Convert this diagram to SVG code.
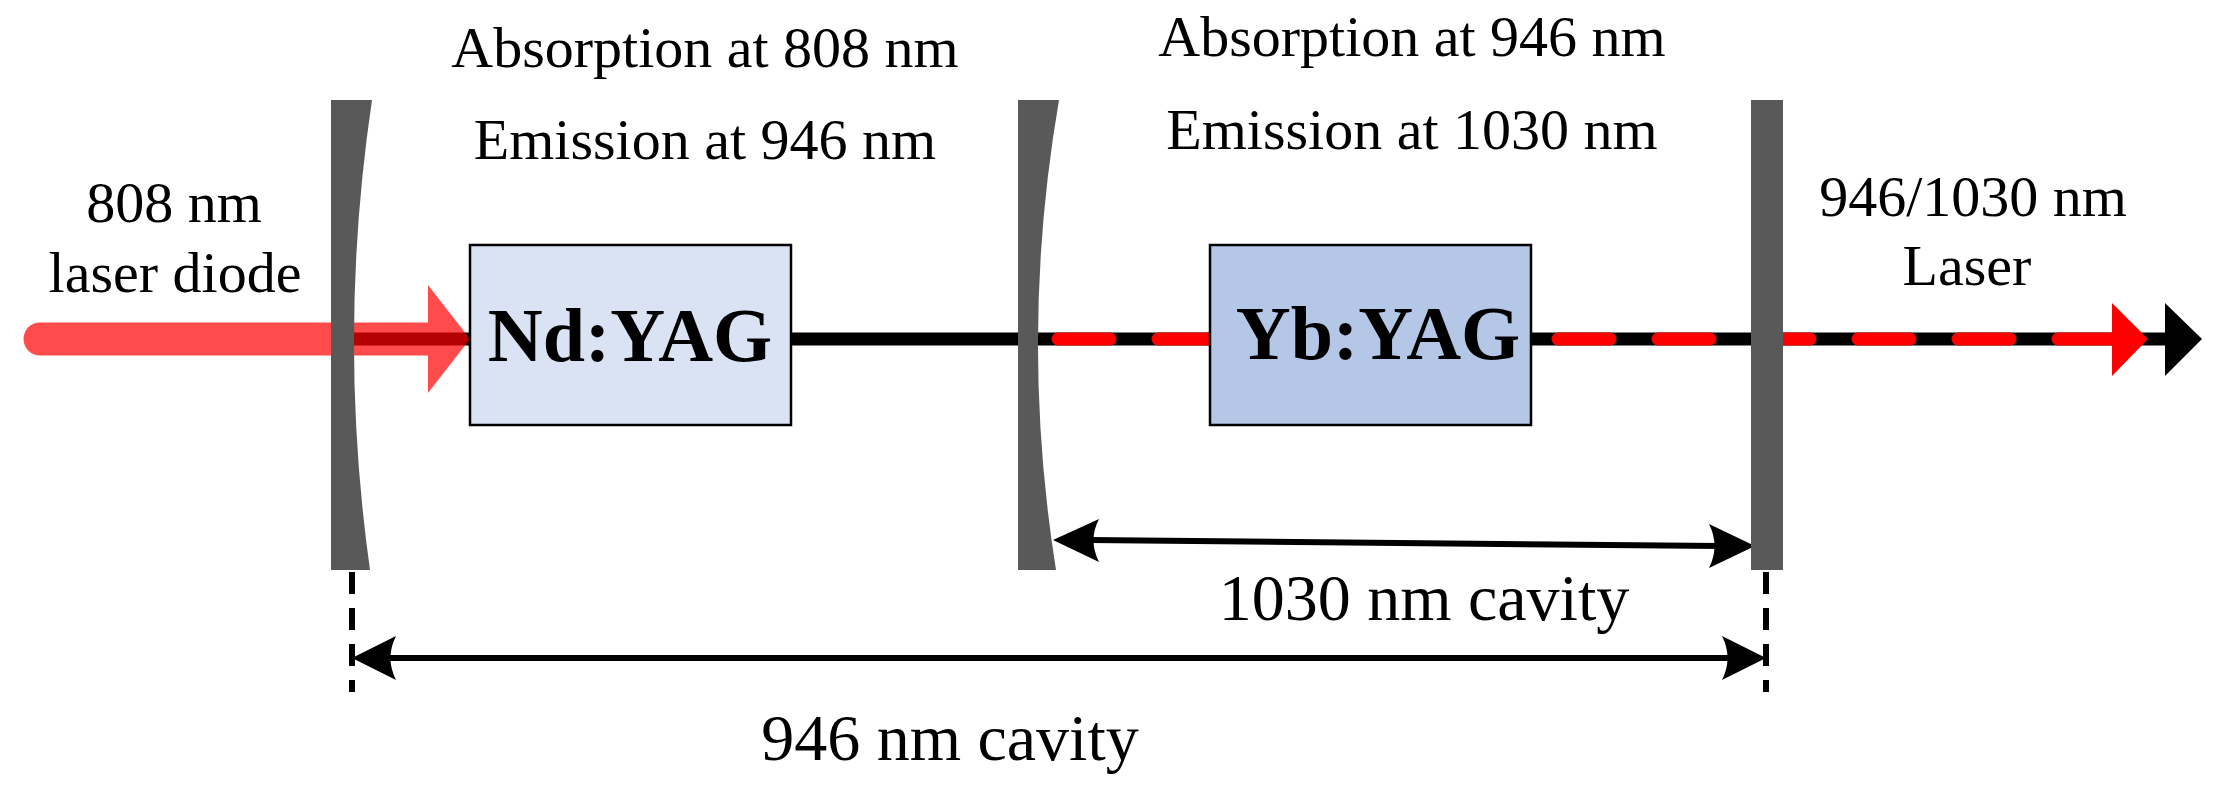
<svg xmlns="http://www.w3.org/2000/svg" width="2214" height="792" viewBox="0 0 2214 792">
<style>
text{font-family:"Liberation Serif","Times New Roman",serif;fill:#000;text-anchor:middle}
.t{font-size:58px}
.c{font-size:66px}
.b{font-size:76px;font-weight:bold}
.mirror{fill:#595959}
.box{stroke:#000;stroke-width:2.5}
</style>
<rect width="2214" height="792" fill="#fff"/>
<g id="connectors">
<line x1="354" y1="339" x2="2170" y2="339" stroke="#000" stroke-width="13"/>
<polygon points="2165,303 2202,339 2165,376" fill="#000"/>
<line x1="1058" y1="339" x2="2112" y2="339" stroke="#f00" stroke-width="13" stroke-linecap="round" stroke-dasharray="52 48"/>
<polygon points="2112,303 2148,339 2112,376" fill="#f00"/>
<g id="pump" opacity="0.7" fill="#f00">
<line x1="40" y1="339" x2="440" y2="339" stroke="#f00" stroke-width="33" stroke-linecap="round"/>
<polygon points="428,285 470,339 428,393"/>
</g>
<g id="cav1030">
<line x1="1090" y1="540" x2="1720" y2="546" stroke="#000" stroke-width="6"/>
<path d="M1053,540 L1099,519 Q1088,540 1099,562 Z" fill="#000"/>
<path d="M1755,546 L1709,524 Q1720,546 1709,568 Z" fill="#000"/>
</g>
<g id="cav946">
<line x1="385" y1="658" x2="1735" y2="658" stroke="#000" stroke-width="6"/>
<path d="M352,658 L396,636 Q385,658 396,680 Z" fill="#000"/>
<path d="M1766,658 L1722,636 Q1733,658 1722,680 Z" fill="#000"/>
<line x1="352" y1="572" x2="352" y2="692" stroke="#000" stroke-width="6" stroke-dasharray="22 14"/>
<line x1="1766" y1="572" x2="1766" y2="692" stroke="#000" stroke-width="6" stroke-dasharray="22 14"/>
</g>
</g>
<g id="mirror1"><path class="mirror" d="M331,100 L372,100 Q337,335 370,570 L331,570 Z"/></g>
<g id="mirror2"><path class="mirror" d="M1018,100 L1059,100 Q1018.5,335 1056,570 L1018,570 Z"/></g>
<g id="mirror3"><rect class="mirror" x="1751" y="100" width="32" height="470"/></g>
<g id="ndyag"><rect class="box" x="470" y="245" width="321" height="180" fill="#DAE3F3"/><text class="b" x="630" y="361">Nd:YAG</text></g>
<g id="ybyag"><rect class="box" x="1210" y="245" width="321" height="180" fill="#B4C7E7"/><text class="b" x="1378" y="359">Yb:YAG</text></g>
<g id="labels">
<text class="t" x="705" y="67">Absorption at 808 nm</text>
<text class="t" x="705" y="159">Emission at 946 nm</text>
<text class="t" x="1412" y="56">Absorption at 946 nm</text>
<text class="t" x="1412" y="149">Emission at 1030 nm</text>
<text class="t" x="174" y="222">808 nm</text>
<text class="t" x="175" y="292">laser diode</text>
<text class="t" x="1973" y="216">946/1030 nm</text>
<text class="t" x="1967" y="285">Laser</text>
<text class="c" x="1424" y="620">1030 nm cavity</text>
<text class="c" x="950" y="760">946 nm cavity</text>
</g>
</svg>
